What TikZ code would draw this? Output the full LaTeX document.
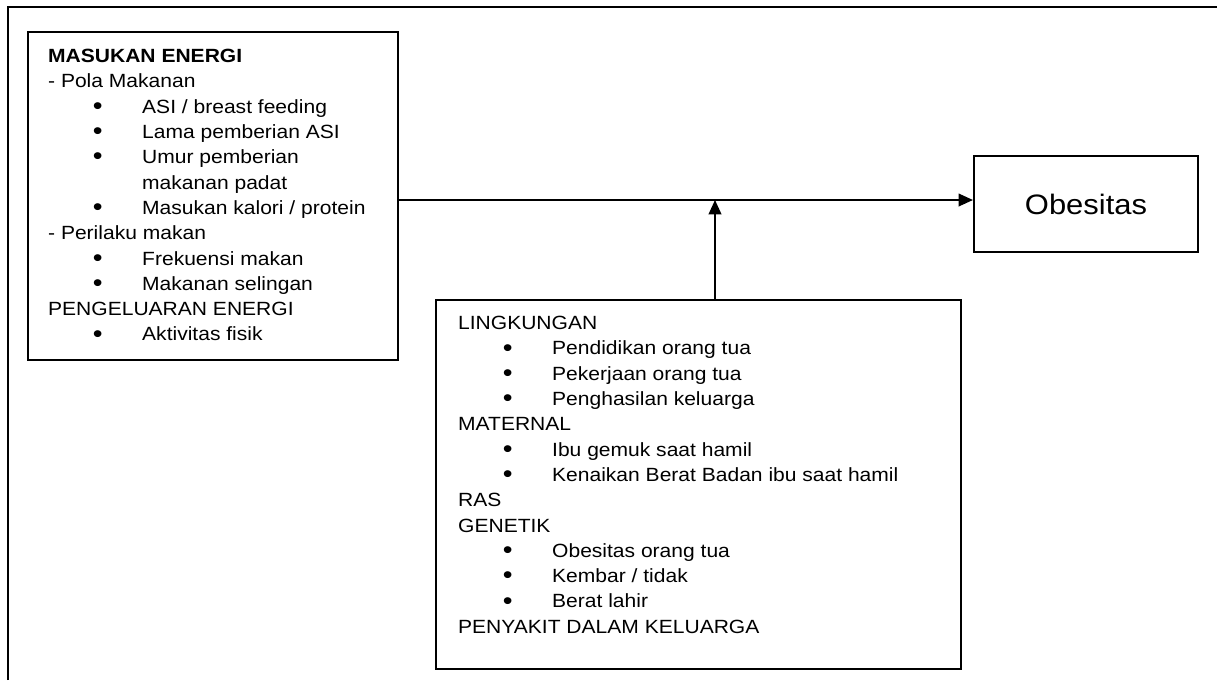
\documentclass[tikz,border=0pt]{standalone}
\usepackage{fontspec}
\setmainfont{Liberation Sans}[FakeStretch=1.1]
\usetikzlibrary{arrows.meta}
\newcommand{\itm}[1]{\hspace*{1.12cm}\makebox[1.23cm][l]{\raisebox{-0.06em}{\fontsize{18}{18}\selectfont\textbullet}}#1}
\begin{document}
\begin{tikzpicture}[x=0.025cm, y=-0.025cm,
  every node/.style={font={\fontsize{13.6}{18}\selectfont}},
  box/.style={draw, line width=1.5pt, inner sep=0pt},
  txt/.style={anchor=north west, align=left, inner sep=0pt},
  arr/.style={line width=1.1pt, -{Triangle[length=0.36cm,width=0.32cm]}}]
\useasboundingbox (0,0) rectangle (1217,680);
% outer frame
\draw[line width=1.5pt] (8,680) -- (8,7) -- (1217,7);
% energy box
\node[box, minimum width=9.25cm, minimum height=8.2cm] (lbox) at (213,196) {};
\node[txt] (ltxt) at ([shift={(21,18)}]lbox.north west) {\textbf{MASUKAN ENERGI}\\
  - Pola Makanan\\
  \itm{ASI / breast feeding}\\
  \itm{Lama pemberian ASI}\\
  \itm{Umur pemberian}\\
  \hspace*{2.35cm}makanan padat\\
  \itm{Masukan kalori / protein}\\
  - Perilaku makan\\
  \itm{Frekuensi makan}\\
  \itm{Makanan selingan}\\
  PENGELUARAN ENERGI\\
  \itm{Aktivitas fisik}};
% factor box
\node[box, minimum width=13.125cm, minimum height=9.225cm] (bbox) at (698.5,484.5) {};
\node[txt] (btxt) at ([shift={(23,17)}]bbox.north west) {LINGKUNGAN\\
  \itm{Pendidikan orang tua}\\
  \itm{Pekerjaan orang tua}\\
  \itm{Penghasilan keluarga}\\
  MATERNAL\\
  \itm{Ibu gemuk saat hamil}\\
  \itm{Kenaikan Berat Badan ibu saat hamil}\\
  RAS\\
  GENETIK\\
  \itm{Obesitas orang tua}\\
  \itm{Kembar / tidak}\\
  \itm{Berat lahir}\\
  PENYAKIT DALAM KELUARGA};
% outcome
\node[box, minimum width=5.6cm, minimum height=2.4cm, font={\fontsize{20}{24}\selectfont}] (obes) at (1086,204) {Obesitas};
\coordinate (join) at (715,200);
\draw[arr] (lbox.east |- join) -- (obes.west |- join);
\draw[arr] (bbox.north -| join) -- (join);
\end{tikzpicture}
\end{document}
